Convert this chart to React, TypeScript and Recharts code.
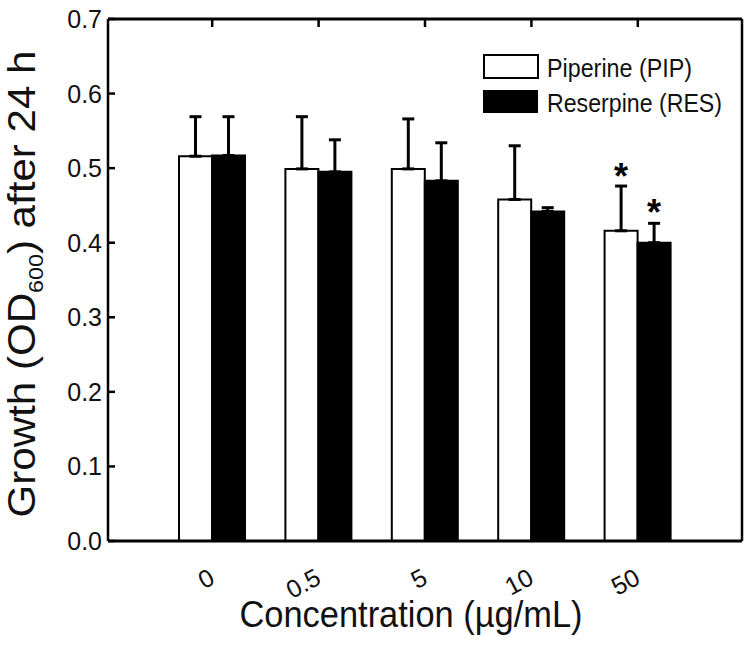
import React from 'react';
import { BarChart, Bar, XAxis, YAxis, ErrorBar, Legend, LabelList, Label } from 'recharts';

// values (OD600 after 24 h)
const concentrations = ['0', '0.5', '5', '10', '50'];
const piperine = [0.516, 0.499, 0.499, 0.458, 0.416];
const piperineErr = [0.053, 0.07, 0.067, 0.072, 0.06];
const reserpine = [0.517, 0.495, 0.483, 0.442, 0.4];
const reserpineErr = [0.052, 0.043, 0.051, 0.005, 0.026];
const piperineSig = [false, false, false, false, true];
const reserpineSig = [false, false, false, false, true];
const yTicks = [0, 0.1, 0.2, 0.3, 0.4, 0.5, 0.6, 0.7];
const seriesNames = ['Piperine (PIP)', 'Reserpine (RES)'];

// one-sided (upper) error bars
const rows = concentrations.map((c, i) => ({
  conc: c,
  pip: piperine[i],
  pipErr: [0, piperineErr[i]],
  res: reserpine[i],
  resErr: [0, reserpineErr[i]],
}));

const FONT = '"Liberation Sans", Arial, sans-serif';
const INK = '#111';

const LeftTick = ({ x, y, payload }: any) => (
  <g>
    <line x1={x} x2={x + 7} y1={y} y2={y} stroke="#000" strokeWidth={2.5} />
    <text x={x - 6} y={y} dy="0.36em" textAnchor="end" fontSize={25} fill={INK} fontFamily={FONT}>
      {Number(payload.value).toFixed(1)}
    </text>
  </g>
);

const RightTick = ({ x, y }: any) => (
  <line x1={x - 7} x2={x + 3} y1={y} y2={y} stroke="#000" strokeWidth={2.5} />
);

const TopTick = ({ x, y }: any) => (
  <line x1={x} x2={x} y1={y} y2={y + 8} stroke="#000" strokeWidth={2.5} />
);

const BottomTick = ({ x, y, payload }: any) => {
  const ax = x + 4;
  const ay = y + 42;
  return (
    <text x={ax} y={ay} transform={`rotate(-28 ${ax} ${ay})`} textAnchor="end" fontSize={25} fill={INK} fontFamily={FONT}>
      {payload.value}
    </text>
  );
};

const makeStar = (vals: number[], errs: number[], sig: boolean[], lift: number) => (props: any) => {
  const { x, y, width, height, index } = props;
  if (!sig[index]) return null;
  const cap = Number(y) - (errs[index] * Number(height)) / vals[index];
  return (
    <text x={Number(x) + Number(width) / 2} y={cap + lift} textAnchor="middle" fontSize={36} fontWeight="bold" fill="#000" fontFamily={FONT}>
      *
    </text>
  );
};

const renderLegend = () => (
  <svg width={262} height={76} style={{ display: 'block' }}>
    <rect x={4} y={4} width={54} height={23} fill="#fff" stroke="#000" strokeWidth={2} />
    <text x={67} y={26} fontSize={25} fill={INK} fontFamily={FONT} textLength={145} lengthAdjust="spacingAndGlyphs">
      {seriesNames[0]}
    </text>
    <rect x={3} y={39} width={55} height={23} fill="#000" />
    <text x={67} y={61} fontSize={25} fill={INK} fontFamily={FONT} textLength={175} lengthAdjust="spacingAndGlyphs">
      {seriesNames[1]}
    </text>
  </svg>
);

const yTitle = () => (
  <text x={35} y={284} transform="rotate(-90 35 284)" textAnchor="middle" fontSize={38} fill={INK} fontFamily={FONT} textLength={467} lengthAdjust="spacingAndGlyphs">
    Growth (OD<tspan fontSize={21} dy={8}>600</tspan>
    <tspan dy={-8}>) after 24 h</tspan>
  </text>
);

const xTitle = () => (
  <text x={411} y={627} textAnchor="middle" fontSize={36} fill={INK} fontFamily={FONT} textLength={343} lengthAdjust="spacingAndGlyphs">
    Concentration (µg/mL)
  </text>
);

export default function App() {
  return (
    <div style={{ position: 'absolute', left: 0, top: 0, background: '#fff' }}>
      <BarChart width={752} height={646} data={rows} margin={{ top: 0, right: 0, bottom: 0, left: 0 }} barGap={0} barSize={33}>
        <XAxis
          xAxisId="b"
          dataKey="conc"
          height={105}
          padding={{ left: 51, right: 51 }}
          axisLine={{ stroke: '#000', strokeWidth: 3 }}
          tickLine={false}
          tickSize={0}
          tickMargin={0}
          interval={0}
          tick={<BottomTick />}
        >
          <Label content={xTitle} />
        </XAxis>
        <XAxis
          xAxisId="t"
          orientation="top"
          dataKey="conc"
          height={19}
          padding={{ left: 51, right: 51 }}
          axisLine={{ stroke: '#000', strokeWidth: 3 }}
          tickLine={false}
          tickSize={0}
          tickMargin={0}
          interval={0}
          tick={<TopTick />}
        />
        <YAxis
          yAxisId="l"
          type="number"
          width={108}
          domain={[0, 0.7]}
          ticks={yTicks}
          interval={0}
          axisLine={{ stroke: '#000', strokeWidth: 2.5 }}
          tickLine={false}
          tickSize={0}
          tickMargin={0}
          tick={<LeftTick />}
        >
          <Label content={yTitle} />
        </YAxis>
        <YAxis
          yAxisId="r"
          orientation="right"
          type="number"
          width={10}
          domain={[0, 0.7]}
          ticks={yTicks}
          interval={0}
          axisLine={{ stroke: '#000', strokeWidth: 2.5 }}
          tickLine={false}
          tickSize={0}
          tickMargin={0}
          tick={<RightTick />}
        />
        <Legend
          layout="vertical"
          align="center"
          verticalAlign="middle"
          content={renderLegend}
          wrapperStyle={{ left: 480, top: 51, width: 262, height: 76 }}
        />
        <Bar xAxisId="b" yAxisId="l" dataKey="pip" name={seriesNames[0]} fill="#fff" stroke="#000" strokeWidth={2} isAnimationActive={false}>
          <ErrorBar dataKey="pipErr" direction="y" width={6} stroke="#000" strokeWidth={3} />
          <LabelList dataKey="pip" content={makeStar(piperine, piperineErr, piperineSig, 3)} />
        </Bar>
        <Bar xAxisId="b" yAxisId="l" dataKey="res" name={seriesNames[1]} fill="#000" stroke="#000" strokeWidth={2} isAnimationActive={false}>
          <ErrorBar dataKey="resErr" direction="y" width={6} stroke="#000" strokeWidth={3} />
          <LabelList dataKey="res" content={makeStar(reserpine, reserpineErr, reserpineSig, 2)} />
        </Bar>
      </BarChart>
    </div>
  );
}
